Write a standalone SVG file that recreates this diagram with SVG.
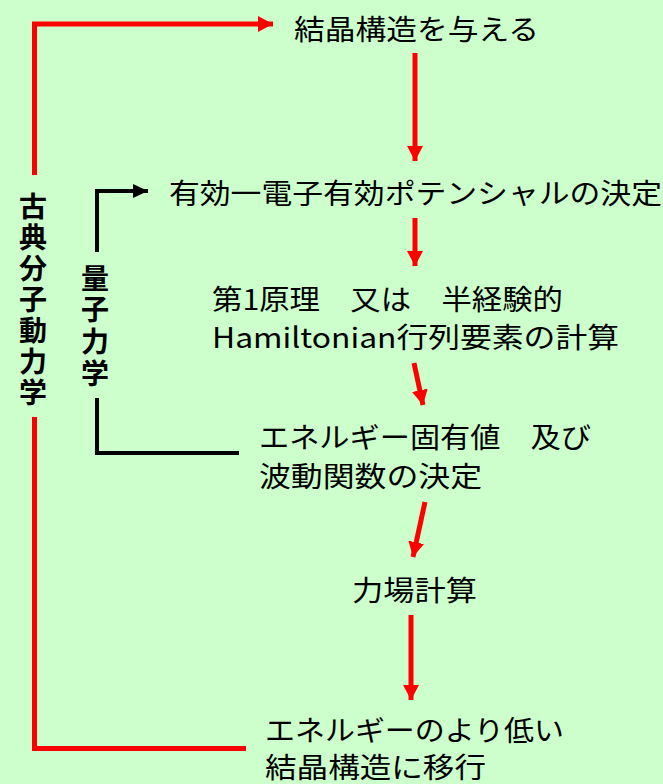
<svg xmlns="http://www.w3.org/2000/svg" width="663" height="784" viewBox="0 0 663 784">
<defs>
<style>
.t{font-family:"Noto Sans CJK JP","Noto Sans",sans-serif;font-size:28px;fill:#000;}
.v{font-family:"Noto Sans CJK JP","Noto Sans",sans-serif;font-size:28px;font-weight:bold;fill:#000;writing-mode:vertical-rl;}
.r{fill:none;stroke:#ff0000;stroke-width:5;}
.k{fill:none;stroke:#000;stroke-width:4;}
</style>
<marker id="ar" markerUnits="userSpaceOnUse" markerWidth="16" markerHeight="16" refX="15" refY="8" orient="auto" viewBox="0 0 16 16">
<path d="M0,0 L15,8 L0,16 Z" fill="#ff0000"/>
</marker>
<marker id="ak" markerUnits="userSpaceOnUse" markerWidth="16" markerHeight="14" refX="15" refY="7" orient="auto" viewBox="0 0 16 14">
<path d="M0,0 L15,7 L0,14 Z" fill="#000"/>
</marker>
</defs>
<rect width="663" height="784" fill="#ccffcc"/>

<g id="connectors">
<path class="r" d="M34.5,175 V24 H273" marker-end="url(#ar)"/>
<path class="r" d="M34.5,417 V748.5 H246"/>
<path class="r" d="M415,53 V161" marker-end="url(#ar)"/>
<path class="r" d="M415,218 V266" marker-end="url(#ar)"/>
<path class="r" d="M414,363 L423,405" marker-end="url(#ar)"/>
<path class="r" d="M425,502 L413,557" marker-end="url(#ar)"/>
<path class="r" d="M411,615 V700" marker-end="url(#ar)"/>
<path class="k" d="M97,252 V191 H148" marker-end="url(#ak)"/>
<path class="k" d="M97,398 V453 H239"/>
</g>

<g id="label-classical">
<text class="v" x="33" y="192" letter-spacing="3">古典分子動力学</text>
</g>

<g id="label-quantum">
<text class="v" x="95" y="264" letter-spacing="3.7">量子力学</text>
</g>

<g id="node-structure">
<text class="t" x="294" y="40" textLength="245" lengthAdjust="spacingAndGlyphs">結晶構造を与える</text>
</g>

<g id="node-potential">
<text class="t" x="169" y="204" textLength="493" lengthAdjust="spacingAndGlyphs">有効一電子有効ポテンシャルの決定</text>
</g>

<g id="node-hamiltonian">
<text class="t" x="212" y="310" textLength="351" lengthAdjust="spacingAndGlyphs">第1原理　又は　半経験的</text>
<text class="t" x="212" y="348" textLength="407" lengthAdjust="spacingAndGlyphs">Hamiltonian行列要素の計算</text>
</g>

<g id="node-eigen">
<text class="t" x="259" y="448" textLength="332" lengthAdjust="spacingAndGlyphs">エネルギー固有値　及び</text>
<text class="t" x="259" y="487" textLength="223" lengthAdjust="spacingAndGlyphs">波動関数の決定</text>
</g>

<g id="node-force">
<text class="t" x="352" y="601" textLength="125" lengthAdjust="spacingAndGlyphs">力場計算</text>
</g>

<g id="node-lower">
<text class="t" x="265" y="741" textLength="299" lengthAdjust="spacingAndGlyphs">エネルギーのより低い</text>
<text class="t" x="265" y="778" textLength="221" lengthAdjust="spacingAndGlyphs">結晶構造に移行</text>
</g>
</svg>
